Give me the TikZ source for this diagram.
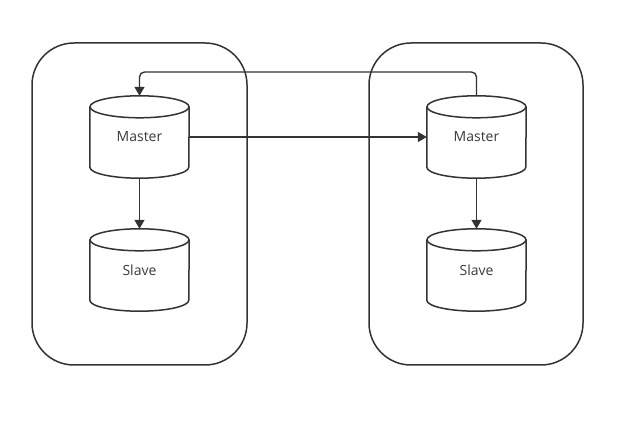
\documentclass[tikz,border=0pt]{standalone}
\usepackage{fontspec}
\setmainfont{Open Sans}
\usetikzlibrary{arrows.meta}
\definecolor{ink}{HTML}{333333}
\definecolor{txt}{HTML}{3A3A3A}
\tikzset{
  line/.style={draw=ink, line width=1.5pt},
  container/.style={line, rounded corners=42pt},
  db/.style={minimum width=99pt, minimum height=82pt, inner sep=0pt, text=txt,
             font=\fontsize{14}{16}\selectfont},
  flow/.style={draw=ink, line width=1.4pt, -{Triangle[length=9pt,width=10pt]}},
}
\newcommand\drawcyl[1]{%
  \draw[line] ([yshift=-11pt]#1.north) ellipse [x radius=49.5pt, y radius=11pt];
  \draw[line] ([yshift=-11pt]#1.north west) -- ([yshift=11pt]#1.south west)
     arc[start angle=180, end angle=360, x radius=49.5pt, y radius=11pt]
     -- ([yshift=-11pt]#1.north east);
}
\begin{document}
\begin{tikzpicture}[x=1pt,y=-1pt]
  \useasboundingbox (0,0) rectangle (630,430);
  \node[container, minimum width=215pt, minimum height=322pt, inner sep=0pt] (boxL) at (139.5,204) {};
  \node[container, minimum width=214pt, minimum height=322pt, inner sep=0pt] (boxR) at (476,204) {};
  \node[db] (mL) at (139.5,137) {Master};
  \node[db] (sL) at (139.5,270) {Slave};
  \node[db] (mR) at (476.5,137) {Master};
  \node[db] (sR) at (476.5,270) {Slave};
  \drawcyl{mL}\drawcyl{sL}\drawcyl{mR}\drawcyl{sR}
  \coordinate (cR) at (476.5,72);
  \coordinate (cL) at (139.5,72);
  \draw[flow] (mL.east) -- (mR.west);
  \draw[flow] (mL.south) -- (sL.north);
  \draw[flow] (mR.south) -- (sR.north);
  \draw[flow, rounded corners=5pt] (mR.north) -- (cR) -- (cL) -- (mL.north);
\end{tikzpicture}
\end{document}
